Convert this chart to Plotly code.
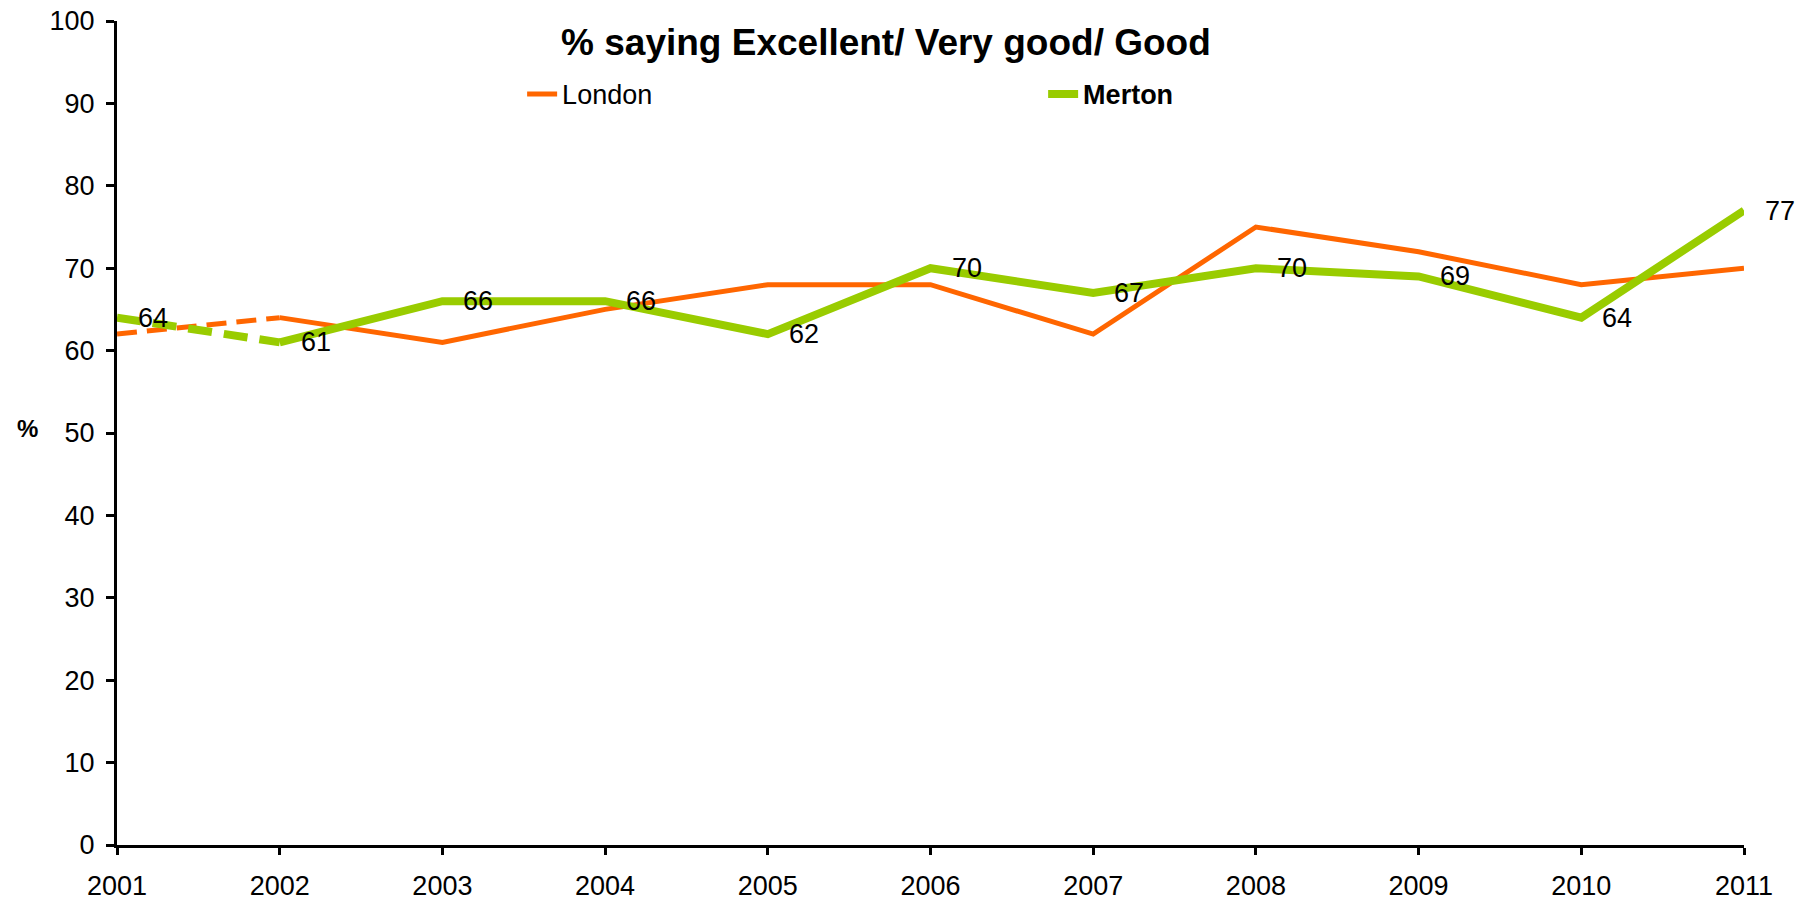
import plotly.graph_objects as go

years = [2001, 2002, 2003, 2004, 2005, 2006, 2007, 2008, 2009, 2010, 2011]
london = [62, 64, 61, 65, 68, 68, 62, 75, 72, 68, 70]
merton = [64, 61, 66, 66, 62, 70, 67, 70, 69, 64, 77]
merton_labels = [str(v) for v in merton]
y_ticks = list(range(0, 101, 10))

ORANGE = "#FF6600"
GREEN = "#99CC00"
FONT = "Liberation Sans, Arial, sans-serif"

fig = go.Figure()
# dashed first segments (2001-2002)
fig.add_trace(go.Scatter(x=years[:2], y=london[:2], mode="lines",
                         line=dict(color=ORANGE, width=5, dash="20px,10px"),
                         showlegend=False, hoverinfo="skip"))
fig.add_trace(go.Scatter(x=years[:2], y=merton[:2], mode="lines",
                         line=dict(color=GREEN, width=8, dash="24px,12px"),
                         showlegend=False, hoverinfo="skip"))
# solid rest
fig.add_trace(go.Scatter(x=years[1:], y=london[1:], mode="lines", name="London",
                         line=dict(color=ORANGE, width=5)))
fig.add_trace(go.Scatter(x=years[1:], y=merton[1:], mode="lines", name="<b>Merton</b>",
                         line=dict(color=GREEN, width=8)))

for x, y, t in zip(years, merton, merton_labels):
    fig.add_annotation(x=x, y=y, text=t, showarrow=False, xanchor="left",
                       yanchor="middle", xshift=19,
                       font=dict(size=27, color="black", family=FONT))

fig.add_annotation(xref="paper", yref="y", x=-0.055, y=50.5, text="<b>%</b>",
                   showarrow=False, xanchor="center", yanchor="middle",
                   font=dict(size=24, color="black", family=FONT))

fig.update_layout(
    width=1816, height=904,
    margin=dict(l=117, r=72, t=21, b=59, autoexpand=False),
    paper_bgcolor="white", plot_bgcolor="white",
    font=dict(family=FONT, size=27, color="black"),
    title=dict(text="<b>% saying Excellent/ Very good/ Good</b>",
               font=dict(size=37, color="black", family=FONT),
               xref="paper", x=0.4726, xanchor="center",
               yref="container", y=0.953, yanchor="middle"),
    legend=dict(orientation="h", x=0.249, y=0.911, xanchor="left", yanchor="middle",
                entrywidth=476, entrywidthmode="pixels",
                font=dict(size=27, family=FONT, color="black"),
                bgcolor="rgba(0,0,0,0)"),
    showlegend=True,
)
fig.update_xaxes(range=[2001, 2011], tickvals=years, ticktext=[str(y) for y in years],
                 automargin=False,
                 showgrid=False, zeroline=False, showline=True, linecolor="black",
                 linewidth=3, ticks="outside", ticklen=7, tickwidth=3, tickcolor="black",
                 ticklabelstandoff=8,
                 tickfont=dict(size=27, family=FONT, color="black"))
fig.update_yaxes(range=[0, 100], tickvals=y_ticks, showgrid=False, zeroline=False,
                 automargin=False,
                 showline=True, linecolor="black", linewidth=3, ticks="outside",
                 ticklen=8, tickwidth=3, tickcolor="black", ticklabelstandoff=6,
                 tickfont=dict(size=27, family=FONT, color="black"))

fig.write_html("out.html", config={"displayModeBar": False},
               post_script="document.body.style.margin='0';document.body.style.overflow='hidden';")
